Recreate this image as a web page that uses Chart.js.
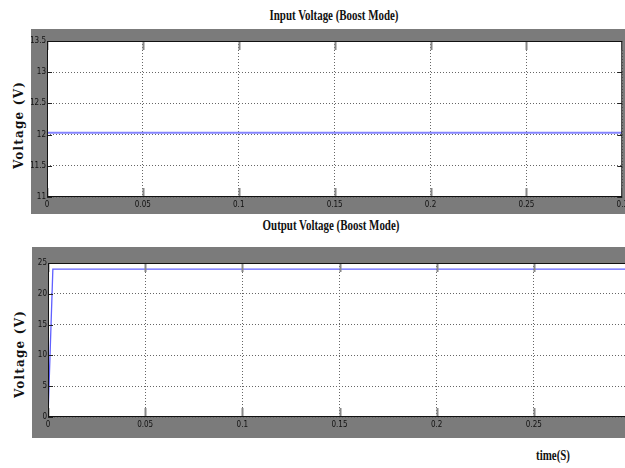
<!DOCTYPE html>
<html>
<head>
<meta charset="utf-8">
<script src="https://cdn.jsdelivr.net/npm/chart.js@4.4.0/dist/chart.umd.min.js"></script>
<style>
  html, body { margin: 0; padding: 0; background: #fff; overflow: hidden; }
  body { width: 625px; height: 468px; position: relative; }
  .box { position: absolute; background: #7b7b7b; }
  .ttl { position: absolute; font-family: 'Liberation Serif', serif; font-weight: bold; font-size: 14px;
         white-space: nowrap; transform: translateX(-50%) scaleX(0.78); transform-origin: center; color: #111; }
  .ylab { position: absolute; font-family: 'DejaVu Serif', serif; font-weight: bold; font-size: 12px; letter-spacing: 1.2px;
          white-space: nowrap; transform: translate(-50%, -50%) rotate(-90deg); color: #111; }
</style>
</head>
<body>
<div class="ttl" style="left:334px; top:8px;">Input Voltage (Boost Mode)</div>
<div class="ylab" style="left:19px; top:125px;">Voltage (V)</div>
<div class="box" style="left:31px; top:29px; width:600px; height:185px;"><canvas id="c1"></canvas></div>

<div class="ttl" style="left:331px; top:218px;">Output Voltage (Boost Mode)</div>
<div class="ylab" style="left:20px; top:354px;">Voltage (V)</div>
<div class="box" style="left:32px; top:247px; width:610px; height:191px;"><canvas id="c2"></canvas></div>

<div class="ttl" style="left:553px; top:448px;">time(S)</div>

<script>
// time axis ticks (s)
const timeTicks = [0, 0.05, 0.1, 0.15, 0.2, 0.25, 0.3];

// input voltage
const inTime = [0, 0.3];
const inVolt = [12.03, 12.03];
const inTicks = [11, 11.5, 12, 12.5, 13, 13.5];

// output voltage
const outTime = [0, 0.0025, 0.3];
const outVolt = [0, 24, 24];
const outTicks = [0, 5, 10, 15, 20, 25];

const tickFont = { family: "'Liberation Sans Narrow', 'DejaVu Sans Condensed', sans-serif", size: 8 };

// white plot area, box outline and matlab-style inner ticks
const plotFrame = {
  id: 'plotFrame',
  beforeDraw(chart) {
    const a = chart.chartArea, ctx = chart.ctx;
    ctx.save();
    ctx.fillStyle = '#fff';
    ctx.fillRect(a.left, a.top, a.right - a.left, a.bottom - a.top);
    ctx.restore();
  },
  afterDraw(chart) {
    const a = chart.chartArea, ctx = chart.ctx;
    ctx.save();
    const xs = chart.scales.x, ys = chart.scales.y;
    ctx.strokeStyle = '#888';
    ctx.lineWidth = 2;
    xs.ticks.forEach(t => {
      const px = Math.round(xs.getPixelForValue(t.value)) + 0.5;
      ctx.beginPath();
      ctx.moveTo(px, a.top); ctx.lineTo(px, a.top + 9);
      ctx.moveTo(px, a.bottom); ctx.lineTo(px, a.bottom - 9);
      ctx.stroke();
    });
    ctx.strokeStyle = '#222';
    ctx.lineWidth = 1;
    ys.ticks.forEach(t => {
      const py = Math.round(ys.getPixelForValue(t.value)) + 0.5;
      ctx.beginPath();
      ctx.moveTo(a.left, py); ctx.lineTo(a.left + 5, py);
      ctx.moveTo(a.right, py); ctx.lineTo(a.right - 5, py);
      ctx.stroke();
    });
    ctx.strokeStyle = '#111';
    ctx.lineWidth = 1;
    ctx.strokeRect(a.left + 0.5, a.top + 0.5, a.right - a.left - 1, a.bottom - a.top - 1);
    ctx.restore();
  }
};

function makeChart(id, times, volts, yTicks, color, width, pad, xh) {
  const data = times.map((t, i) => ({ x: t, y: volts[i] }));
  return new Chart(document.getElementById(id), {
    type: 'line',
    data: { datasets: [{ data: data, borderColor: color, borderWidth: width, pointRadius: 0, tension: 0, fill: false }] },
    options: {
      responsive: true,
      maintainAspectRatio: false,
      animation: false,
      layout: { padding: pad },
      plugins: { legend: { display: false }, title: { display: false }, tooltip: { enabled: false } },
      scales: {
        x: {
          type: 'linear',
          min: timeTicks[0],
          max: timeTicks[timeTicks.length - 1],
          afterBuildTicks: s => { s.ticks = timeTicks.map(v => ({ value: v })); },
          afterFit: s => { s.height = xh; },
          ticks: { font: tickFont, color: '#111', padding: 3, maxRotation: 0, autoSkip: false,
                   callback: v => String(Number(v.toFixed(2))) },
          grid: { color: '#666', drawTicks: false, lineWidth: 1 },
          border: { display: false, dash: [1, 2] }
        },
        y: {
          min: yTicks[0],
          max: yTicks[yTicks.length - 1],
          afterBuildTicks: s => { s.ticks = yTicks.map(v => ({ value: v })); },
          afterFit: s => { s.width = 16; },
          ticks: { font: tickFont, color: '#111', padding: 1, autoSkip: false,
                   callback: v => String(Number(v.toFixed(1))) },
          grid: { color: '#666', drawTicks: false, lineWidth: 1 },
          border: { display: false, dash: [1, 2] }
        }
      }
    },
    plugins: [plotFrame]
  });
}

makeChart('c1', inTime, inVolt, inTicks, '#8585ff', 2, { left: 0, top: 12, right: 7, bottom: 0 }, 17);
makeChart('c2', outTime, outVolt, outTicks, '#6060ff', 1.3, { left: 0, top: 16, right: 11, bottom: 0 }, 21);
</script>
</body>
</html>
